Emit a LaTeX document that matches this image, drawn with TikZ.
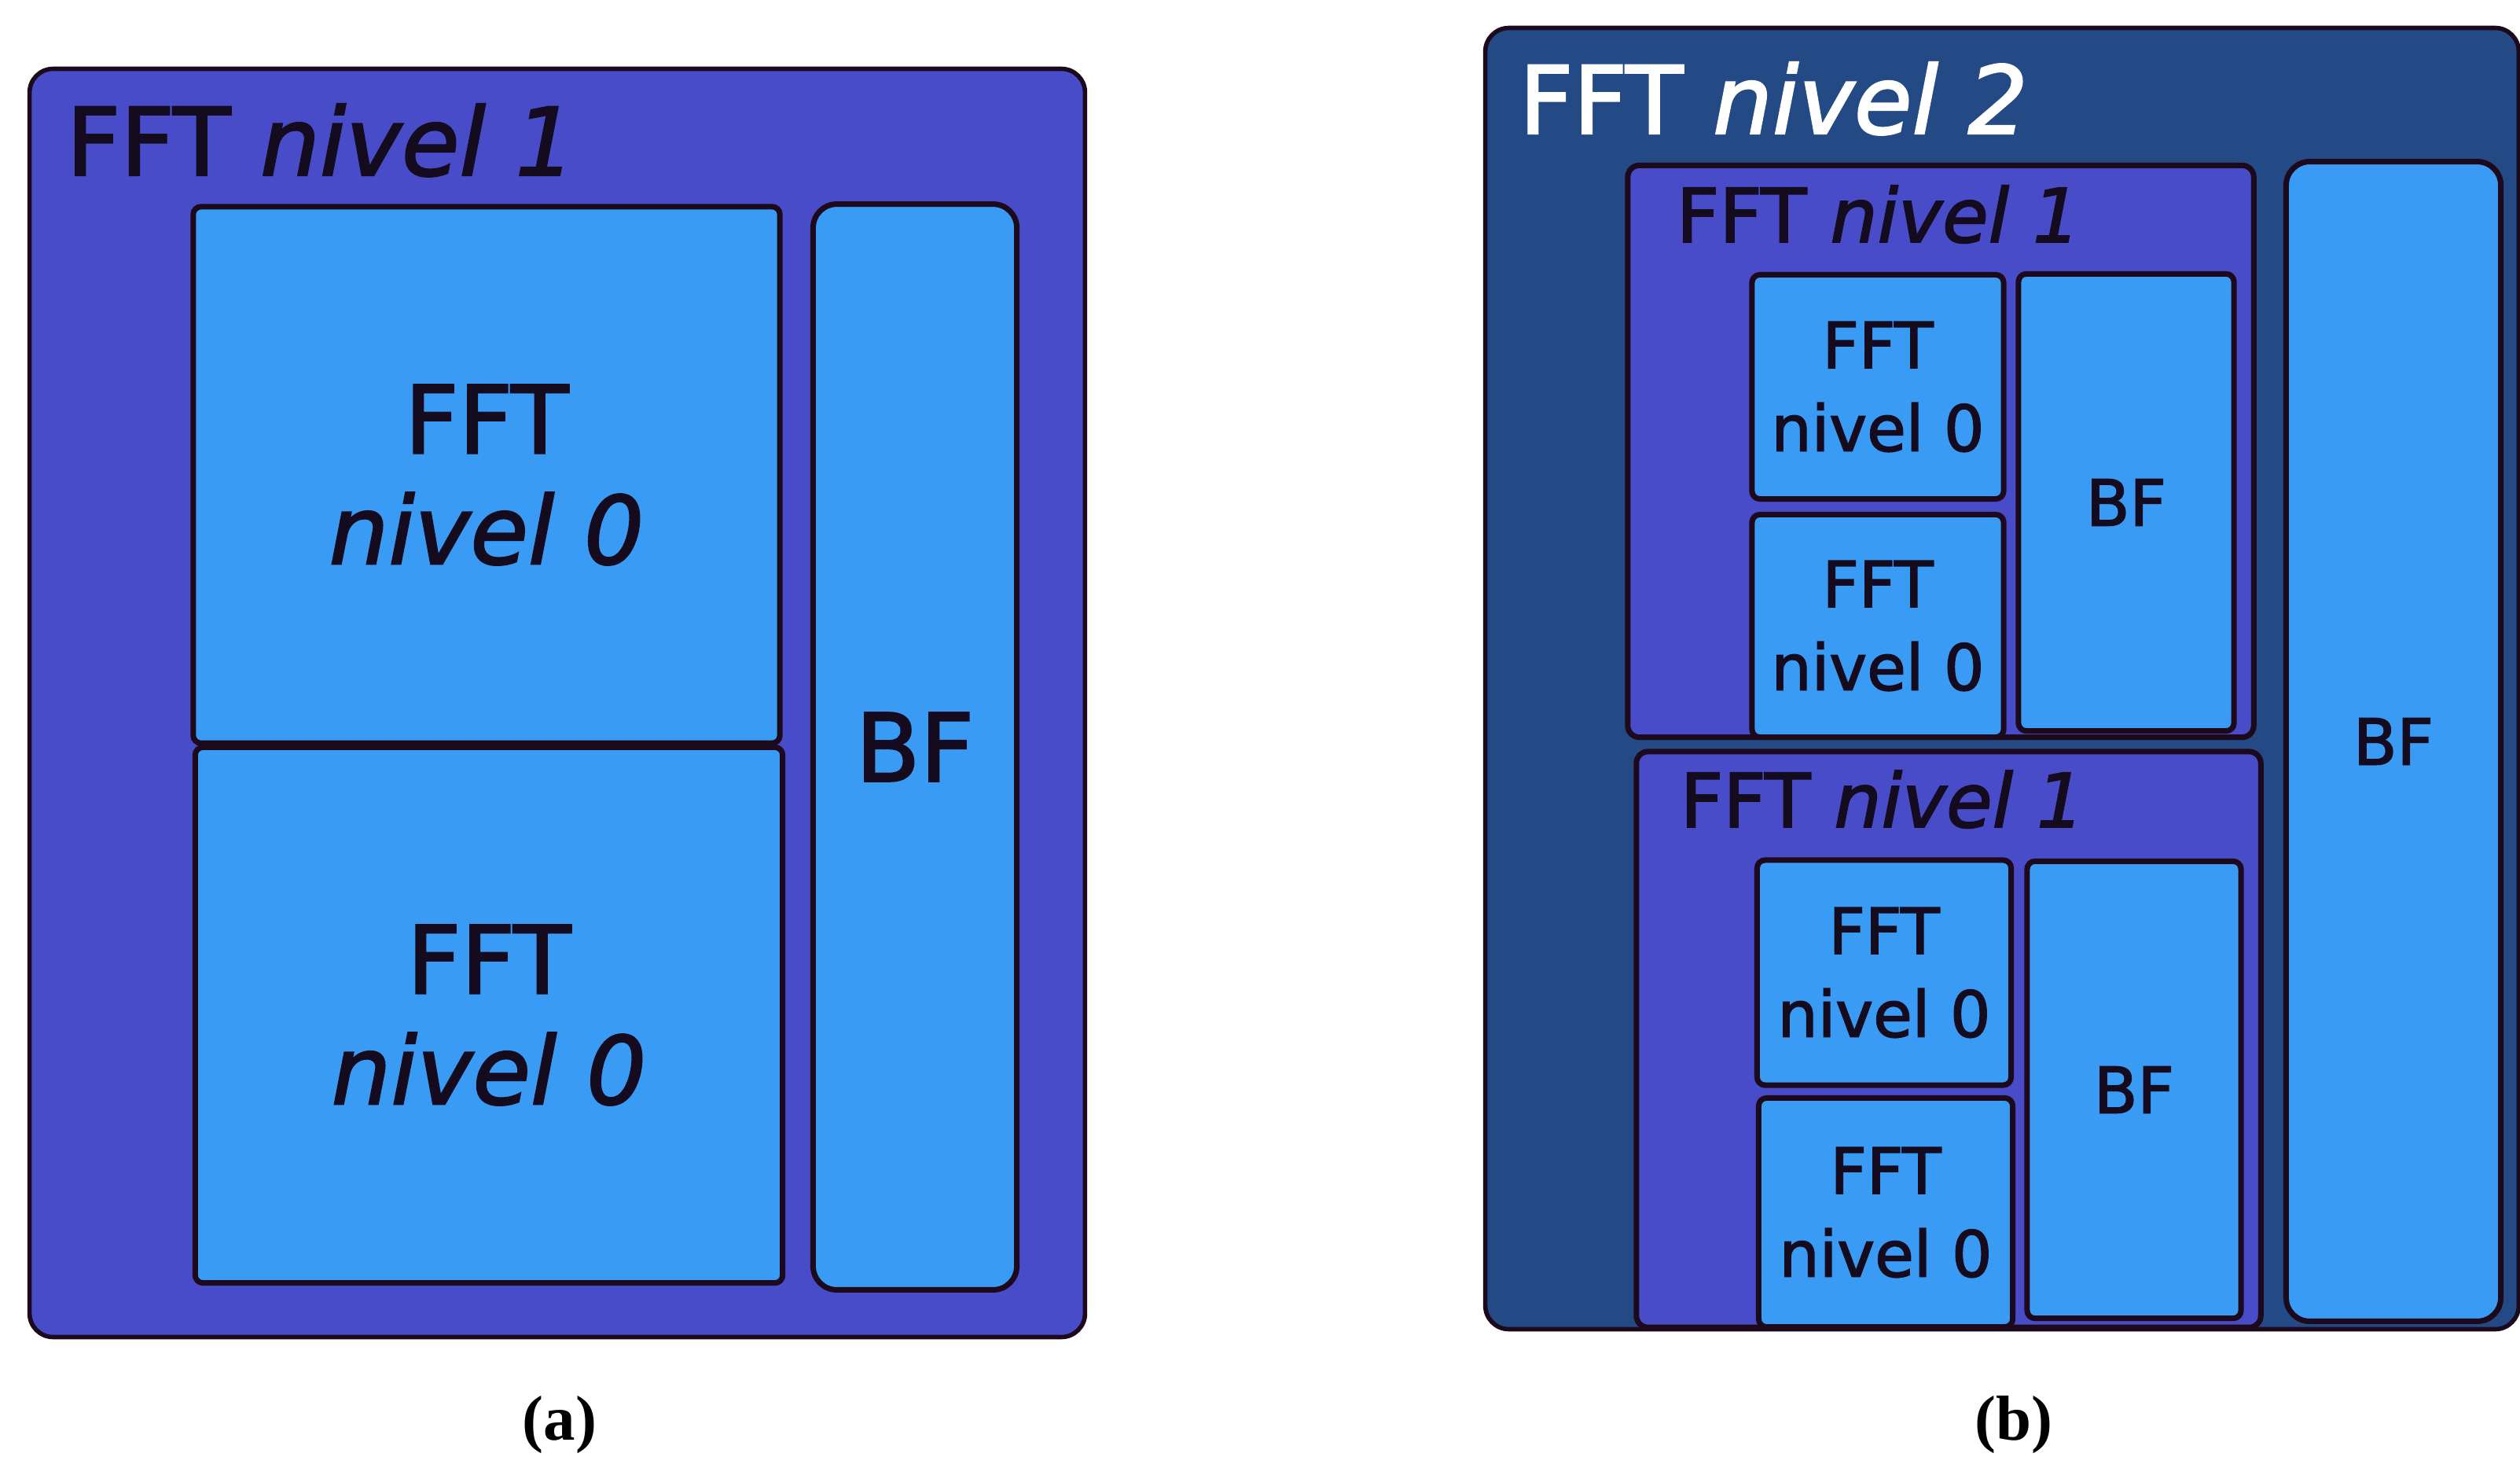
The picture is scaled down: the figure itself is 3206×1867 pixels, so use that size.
\documentclass[tikz,border=0pt]{standalone}
\usepackage{fontspec}
\setsansfont{DejaVu Sans}[FakeBold=2]
\newfontfamily\capfont{Liberation Serif}
\definecolor{fftviolet}{RGB}{72,76,200}
\definecolor{fftcyan}{RGB}{58,155,245}
\definecolor{fftnavy}{RGB}{36,74,134}
\definecolor{fftedge}{RGB}{28,10,28}
\definecolor{fftink}{RGB}{20,12,30}
\begin{document}
\begin{tikzpicture}[x=0.01cm, y=-0.01cm,
    grp/.style={draw=fftedge, line width=1.6pt, fill=fftviolet, inner sep=0pt, rounded corners=0.25cm},
    blk/.style={draw=fftedge, line width=2pt, fill=fftcyan, inner sep=0pt, align=center, text=fftink, rounded corners=0.1cm},
    bigtxt/.style={font=\sffamily\fontsize{34}{40}\selectfont},
    midtxt/.style={font=\sffamily\fontsize{27}{32}\selectfont},
    smalltxt/.style={font=\sffamily\fontsize{23}{30}\selectfont},
    caption/.style={font=\capfont\bfseries\fontsize{23}{27}\selectfont}
]
    \useasboundingbox (0,0) rectangle (3206,1867);

    % (a): one level-1 FFT
    \draw (709,894) node[grp, minimum width=13.42cm, minimum height=16.12cm, rounded corners=0.3cm](outA){};
    \draw (84,223) node[bigtxt, anchor=base west, inner sep=0pt, text=fftink](titA){FFT \textit{nivel 1}};
    \draw (619,604) node[blk, bigtxt, minimum width=7.46cm, minimum height=6.82cm](a0top){
        FFT \\ \textit{nivel 0}
    };
    \draw (622,1291) node[blk, bigtxt, minimum width=7.47cm, minimum height=6.81cm](a0bot){
        FFT \\ \textit{nivel 0}
    };
    \draw (1164,950) node[blk, bigtxt, minimum width=2.59cm, minimum height=13.80cm, rounded corners=0.3cm](bfA){BF};

    % (b): level 2 built from two level-1 blocks
    \draw (2547,863) node[grp, fill=fftnavy, minimum width=13.14cm, minimum height=16.54cm, rounded corners=0.3cm](outB){};
    \draw (1932,170) node[bigtxt, anchor=base west, inner sep=0pt, text=white](titB){FFT \textit{nivel 2}};

    \draw (2469,574) node[grp, line width=2pt, minimum width=7.96cm, minimum height=7.27cm, rounded corners=0.15cm](subT){};
    \draw (2132,308) node[midtxt, anchor=base west, inner sep=0pt, text=fftink](titT){FFT \textit{nivel 1}};
    \draw (2389,492) node[blk, smalltxt, minimum width=3.20cm, minimum height=2.85cm](b0a){FFT \\ nivel 0};
    \draw (2389,796) node[blk, smalltxt, minimum width=3.20cm, minimum height=2.83cm](b0b){FFT \\ nivel 0};
    \draw (2705,639) node[blk, smalltxt, minimum width=2.74cm, minimum height=5.81cm](bfT){BF};

    \draw (2479,1322) node[grp, line width=2pt, minimum width=7.94cm, minimum height=7.32cm, rounded corners=0.15cm](subB){};
    \draw (2137,1052) node[midtxt, anchor=base west, inner sep=0pt, text=fftink](titS){FFT \textit{nivel 1}};
    \draw (2397,1237) node[blk, smalltxt, minimum width=3.23cm, minimum height=2.86cm](b0c){FFT \\ nivel 0};
    \draw (2399,1542) node[blk, smalltxt, minimum width=3.23cm, minimum height=2.91cm](b0d){FFT \\ nivel 0};
    \draw (2715,1386) node[blk, smalltxt, minimum width=2.72cm, minimum height=5.81cm](bfB){BF};

    \draw (3045,943) node[blk, smalltxt, minimum width=2.73cm, minimum height=14.74cm, rounded corners=0.3cm](bfBig){BF};

    % captions
    \draw (712,1812) node[caption](capA){(a)};
    \draw (2562,1812) node[caption](capB){(b)};
\end{tikzpicture}
\end{document}
